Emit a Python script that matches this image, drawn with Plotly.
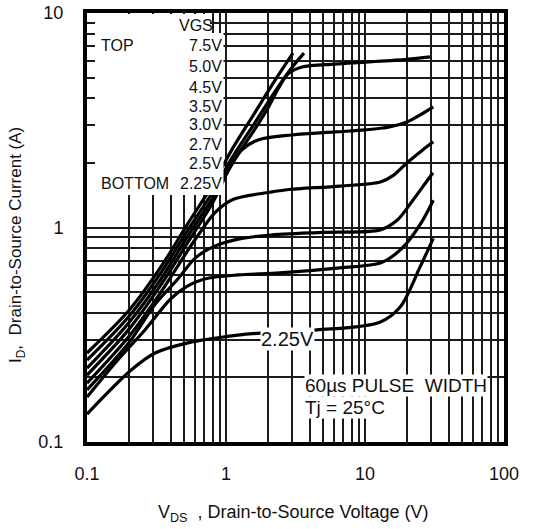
import plotly.graph_objects as go

# ---- data ----
vgs_labels = ["7.5V", "5.0V", "4.5V", "3.5V", "3.0V", "2.7V", "2.5V", "2.25V"]

vds_75 = [0.1, 0.2, 0.34, 0.53, 0.8, 1.1, 1.6, 2.25, 3.03]
id_75 = [0.26, 0.41, 0.655, 1.04, 1.58, 2.30, 3.4, 4.85, 6.5]

vds_50 = [0.1, 0.2, 0.34, 0.53, 0.8, 1.1, 1.6, 2.25, 3.0, 3.64]
id_50 = [0.241, 0.385, 0.615, 0.97, 1.46, 2.10, 3.05, 4.3, 5.6, 6.5]

vds_45 = [0.1, 0.2, 0.34, 0.53, 0.8, 1.1, 1.6, 2.0, 2.38, 2.8, 3.52, 6.08, 10, 20, 29.5]
id_45 = [0.221, 0.36, 0.575, 0.91, 1.37, 1.98, 2.85, 3.6, 4.45, 5.2, 5.6, 5.78, 5.9, 6.08, 6.24]

vds_35 = [0.1, 0.2, 0.34, 0.53, 0.8, 1.03, 1.3, 1.7, 2.98, 6.1, 10, 15, 20, 25, 31]
id_35 = [0.205, 0.335, 0.54, 0.85, 1.3, 1.82, 2.3, 2.56, 2.70, 2.79, 2.85, 2.94, 3.1, 3.35, 3.65]

vds_30 = [0.1, 0.2, 0.34, 0.53, 0.63, 0.83, 1.12, 2.07, 2.74, 6.6, 12.9, 16, 20, 26, 31]
id_30 = [0.188, 0.31, 0.50, 0.78, 0.92, 1.17, 1.35, 1.46, 1.50, 1.56, 1.63, 1.75, 2.0, 2.3, 2.51]

vds_27 = [0.1, 0.2, 0.31, 0.45, 0.6, 0.8, 1.2, 2.0, 5.0, 12.9, 17, 22.1, 27, 30.8]
id_27 = [0.175, 0.29, 0.44, 0.575, 0.72, 0.81, 0.88, 0.92, 0.95, 0.975, 1.08, 1.34, 1.6, 1.80]

vds_25 = [0.1, 0.17, 0.261, 0.4, 0.52, 0.7, 1.22, 2.44, 6.6, 12.9, 16.5, 20, 26, 31]
id_25 = [0.162, 0.245, 0.333, 0.465, 0.53, 0.575, 0.601, 0.614, 0.648, 0.683, 0.75, 0.847, 1.08, 1.34]

vds_225 = [0.1, 0.207, 0.309, 0.533, 1.22, 1.76, 4.5, 12.8, 17.9, 24.9, 31]
id_225 = [0.135, 0.216, 0.26, 0.29, 0.315, 0.322, 0.333, 0.362, 0.426, 0.655, 0.89]

curves = [
    ("7.5V", vds_75, id_75),
    ("5.0V", vds_50, id_50),
    ("4.5V", vds_45, id_45),
    ("3.5V", vds_35, id_35),
    ("3.0V", vds_30, id_30),
    ("2.7V", vds_27, id_27),
    ("2.5V", vds_25, id_25),
    ("2.25V", vds_225, id_225),
]

x_decades = [0.1, 1, 10, 100]
y_decades = [0.1, 1, 10]
x_tick_text = ["0.1", "1", "10", "100"]
y_tick_text = ["0.1", "1", "10"]

# ---- figure ----
W, H = 537, 529
ML, MR, MT, MB = 87, 33, 13, 87
PW, PH = W - ML - MR, H - MT - MB

def px_x(p):
    return (p - ML) / PW

def px_y(p):
    return (H - MB - p) / PH

fig = go.Figure()
for name, xs, ys in curves:
    fig.add_trace(go.Scatter(
        x=xs, y=ys, mode="lines", name=name,
        line=dict(color="black", width=3.2, shape="spline", smoothing=0.9),
        showlegend=False, hoverinfo="skip",
    ))

def grid_vals(decades):
    vals = []
    for d in decades[:-1]:
        for m in range(1, 10):
            vals.append(round(d * m, 6))
    vals.append(decades[-1])
    return vals

xvals = grid_vals(x_decades)
yvals = grid_vals(y_decades)
xtext = [x_tick_text[x_decades.index(v)] if v in x_decades else "" for v in xvals]
ytext = [y_tick_text[y_decades.index(v)] if v in y_decades else "" for v in yvals]

FONT = "Arial, Liberation Sans, sans-serif"
TXT = "#111111"

fig.update_xaxes(
    type="log", range=[-1, 2], tickvals=xvals, ticktext=xtext, tickangle=0,
    showgrid=True, gridcolor="#1a1a1a", gridwidth=1.6,
    showline=True, linecolor="black", linewidth=4, mirror=True,
    ticks="", ticklabelstandoff=12, zeroline=False, automargin=False,
    tickfont=dict(family=FONT, size=18, color=TXT),
)
fig.update_yaxes(
    type="log", range=[-1, 1], tickvals=yvals, ticktext=ytext, tickangle=0,
    showgrid=True, gridcolor="#1a1a1a", gridwidth=1.6,
    showline=True, linecolor="black", linewidth=4, mirror=True,
    ticks="", ticklabelstandoff=16, zeroline=False, automargin=False,
    tickfont=dict(family=FONT, size=18, color=TXT),
)

shapes = [
    dict(type="rect", xref="paper", yref="paper", x0=px_x(95), x1=px_x(223.5),
         y0=px_y(195), y1=px_y(33), fillcolor="white", line=dict(width=0), layer="above"),
    dict(type="rect", xref="paper", yref="paper", x0=px_x(95), x1=px_x(210),
         y0=px_y(34), y1=px_y(14), fillcolor="white", line=dict(width=0), layer="above"),
]

annotations = []
def ann(text, x, y, xanchor="left", size=16, bg=None):
    d = dict(text=text, xref="paper", yref="paper", x=x, y=y, xanchor=xanchor,
             yanchor="middle", showarrow=False,
             font=dict(family=FONT, size=size, color=TXT))
    if bg:
        d.update(bgcolor=bg, borderpad=0)
    annotations.append(d)

legend_rows = [46, 66, 87, 106, 124, 144, 164, 183]
ann("VGS", px_x(177), px_y(25))
ann("TOP", px_x(99), px_y(46))
ann("BOTTOM", px_x(99), px_y(183))
for lab, yy in zip(vgs_labels, legend_rows):
    ann(lab, px_x(224), px_y(yy), xanchor="right")

ann("2.25V", px_x(287), px_y(339), xanchor="center", size=20, bg="white")
ann("60\u00b5s PULSE  WIDTH", px_x(304), px_y(385), size=19, bg="white")
ann("Tj = 25\u00b0C", px_x(304), px_y(407), size=19, bg="white")

ann("V<sub>DS</sub>  , Drain-to-Source Voltage (V)", px_x(293), px_y(513),
    xanchor="center", size=18)
annotations.append(dict(
    text="I<sub>D</sub>,  Drain-to-Source Current (A)", xref="paper", yref="paper",
    x=px_x(17), y=px_y(245), xanchor="center", yanchor="middle", textangle=-90,
    showarrow=False, font=dict(family=FONT, size=17, color=TXT)))

fig.update_layout(
    width=W, height=H, autosize=False,
    margin=dict(l=ML, r=MR, t=MT, b=MB),
    paper_bgcolor="white", plot_bgcolor="white",
    shapes=shapes, annotations=annotations,
)

fig.write_html(
    "out.html",
    config={"displayModeBar": False},
    post_script="document.body.style.margin='0';document.body.style.padding='0';",
)
